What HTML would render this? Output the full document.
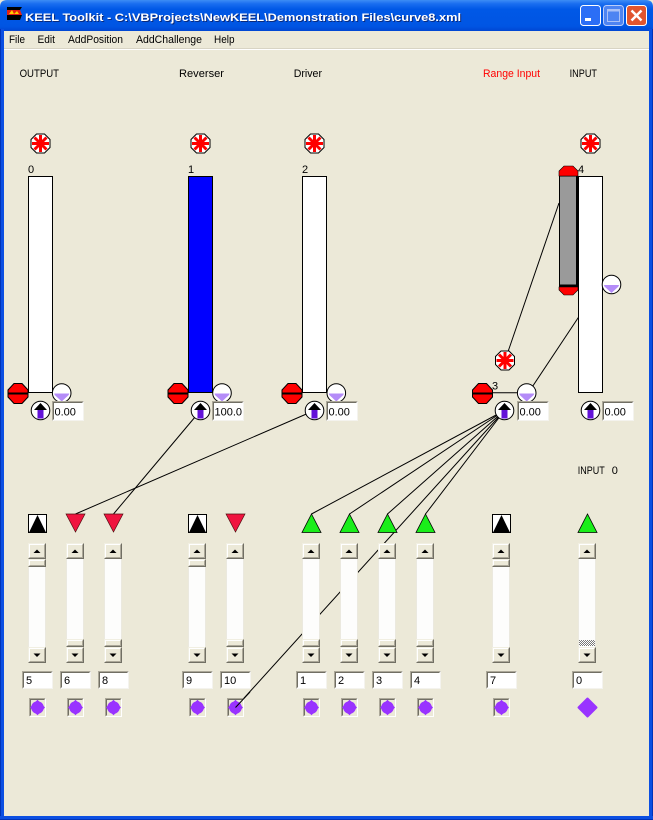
<!DOCTYPE html>
<html><head><meta charset="utf-8"><style>
html,body{margin:0;padding:0;background:#ece9d8;}
svg{display:block}
text{font-family:"Liberation Sans",sans-serif;font-size:11px;fill:#000;}
</style></head><body>
<svg width="653" height="820" viewBox="0 0 653 820" xmlns="http://www.w3.org/2000/svg">
<defs>
<linearGradient id="tb" x1="0" y1="0" x2="0" y2="1">
<stop offset="0" stop-color="#3d8df5"/>
<stop offset="0.12" stop-color="#1a6ef0"/>
<stop offset="0.3" stop-color="#0058e6"/>
<stop offset="0.85" stop-color="#0055e3"/>
<stop offset="1" stop-color="#0046d2"/>
</linearGradient>
<pattern id="hatch" width="2" height="2" patternUnits="userSpaceOnUse">
<rect width="2" height="2" fill="#fff"/><rect width="1" height="1" fill="#777"/><rect x="1" y="1" width="1" height="1" fill="#777"/>
</pattern>
<g id="star">
 <polygon points="-4,-9.5 4,-9.5 9.5,-4 9.5,4 4,9.5 -4,9.5 -9.5,4 -9.5,-4" fill="#fff" stroke="#000" stroke-width="1"/>
 <g stroke="#f00" stroke-width="3">
  <line x1="0" y1="-8.5" x2="0" y2="8.5"/>
  <line x1="-8.5" y1="0" x2="8.5" y2="0"/>
  <line x1="-6" y1="-6" x2="6" y2="6"/>
  <line x1="-6" y1="6" x2="6" y2="-6"/>
 </g>
 <circle r="3" fill="#f00"/>
</g>
<g id="oct">
 <polygon points="-4,-10 4,-10 10,-3.5 10,3.5 4,10 -4,10 -10,3.5 -10,-3.5" fill="#ff0000" stroke="#000" stroke-width="1"/>
 <line x1="-10" y1="0" x2="10" y2="0" stroke="#000" stroke-width="2"/>
</g>
<g id="cd">
 <circle r="9.3" fill="#fff" stroke="#000" stroke-width="1"/>
 <polygon points="-7.5,0.5 7.5,0.5 7,2 0,8.5 -7,2" fill="#b48cf8"/>
</g>
<g id="ua">
 <circle r="9.3" fill="#fff" stroke="#000" stroke-width="1"/>
 <rect x="-3" y="-1" width="6" height="9" fill="#6312d8"/>
 <polygon points="0,-7.5 6.5,-0.5 -6.5,-0.5" fill="#000"/>
</g>
<g id="tbt" shape-rendering="crispEdges">
 <rect width="32" height="20" fill="#fff"/>
 <path d="M0.5,19.5 V0.5 H31.5" stroke="#aca899" fill="none"/>
 <path d="M1.5,18.5 V1.5 H30.5" stroke="#716f64" fill="none"/>
 <path d="M1.5,19.5 H31.5 V1" stroke="#f4f3ee" fill="none"/>
</g>
<g id="tbb" shape-rendering="crispEdges">
 <rect width="31" height="18" fill="#fff"/>
 <path d="M0.5,17.5 V0.5 H30.5" stroke="#aca899" fill="none"/>
 <path d="M1.5,16.5 V1.5 H29.5" stroke="#716f64" fill="none"/>
 <path d="M1.5,17.5 H30.5 V1" stroke="#f4f3ee" fill="none"/>
</g>
<g id="btn" shape-rendering="crispEdges">
 <rect width="18" height="16" fill="#ece9d8"/>
 <path d="M0.5,15.5 V0.5 H17.5" stroke="#f1efe2" fill="none"/>
 <path d="M1.5,14.5 V1.5 H16.5" stroke="#ffffff" fill="none"/>
 <path d="M0.5,15.5 H17.5 V0.5" stroke="#716f64" fill="none"/>
 <path d="M1.5,14.5 H16.5 V1.5" stroke="#aca899" fill="none"/>
</g>
<g id="thumb" shape-rendering="crispEdges">
 <rect width="18" height="8" fill="#ece9d8"/>
 <path d="M0.5,7.5 V0.5 H17.5" stroke="#f1efe2" fill="none"/>
 <path d="M1.5,6.5 V1.5 H16.5" stroke="#ffffff" fill="none"/>
 <path d="M0.5,7.5 H17.5 V0.5" stroke="#716f64" fill="none"/>
 <path d="M1.5,6.5 H16.5 V1.5" stroke="#aca899" fill="none"/>
</g>
<g id="btnup"><use href="#btn"/><polygon points="5.5,10 12.5,10 9,6.5" fill="#000"/></g>
<g id="btndn"><use href="#btn"/><polygon points="5.5,6.5 12.5,6.5 9,10" fill="#000"/></g>
<g id="sbtrack" shape-rendering="crispEdges">
 <rect width="18" height="120" fill="#fdfdfc"/>
 <line x1="0.5" y1="0" x2="0.5" y2="120" stroke="#ebe9df"/>
 <line x1="17.5" y1="0" x2="17.5" y2="120" stroke="#ebe9df"/>
</g>
<g id="sbt"><use href="#sbtrack"/><use href="#btnup"/><use href="#btndn" y="104"/><use href="#thumb" y="16"/></g>
<g id="sbb"><use href="#sbtrack"/><use href="#btnup"/><use href="#btndn" y="104"/><use href="#thumb" y="96"/></g>
<g id="sbh"><use href="#sbtrack"/><use href="#btnup"/><use href="#btndn" y="104"/><rect x="1" y="97" width="16" height="6" fill="url(#hatch)"/></g>
<g id="pi">
 <g shape-rendering="crispEdges">
 <rect width="17" height="19" fill="#ece9d8"/>
 <path d="M0.5,18.5 V0.5 H16.5" stroke="#aca899" fill="none"/>
 <path d="M1.5,17.5 V1.5 H15.5" stroke="#716f64" fill="none"/>
 <path d="M0.5,18.5 H16.5 V0.5" stroke="#ffffff" fill="none"/>
 </g>
 <polygon points="8.5,1.8 16,9.5 8.5,17.2 1,9.5" fill="#9933ff"/>
 <circle cx="8.5" cy="9.5" r="6.3" fill="#9933ff"/>
</g>
<g id="trik">
 <rect x="0.5" y="0.5" width="18" height="18" fill="#fff" stroke="#000"/>
 <polygon points="9.5,1 18,18.5 1,18.5" fill="#000"/>
</g>
<g id="trir"><polygon points="0,0 19,0 9.5,18" fill="#f0143f" stroke="#501010" stroke-width="0.7"/></g>
<g id="trig"><polygon points="9.5,0 19,18.5 0,18.5" fill="#1aee1a" stroke="#000" stroke-width="0.8"/></g>
</defs>

<!-- background -->
<rect width="653" height="820" fill="#ece9d8"/>

<!-- title bar -->
<path d="M0,31 V7 Q0,0 7,0 H646 Q653,0 653,7 V31 Z" fill="url(#tb)"/>
<g>
 <polygon points="7,7 22,7 20,10 7,10" fill="#000"/>
 <polygon points="7,10 20,10 22,15 7,15" fill="#e82010"/>
 <polygon points="9,14 12,10 14,14 17,11 19,14" fill="#ffd000"/>
 <polygon points="7,15 22,15 20,20 7,20" fill="#000"/>
</g>
<text x="26" y="22" font-weight="bold" font-size="12.5" style="fill:#0b2a7a" textLength="436" lengthAdjust="spacingAndGlyphs">KEEL Toolkit - C:\VBProjects\NewKEEL\Demonstration Files\curve8.xml</text>
<text x="25" y="21" font-weight="bold" font-size="12.5" style="fill:#ffffff" textLength="436" lengthAdjust="spacingAndGlyphs">KEEL Toolkit - C:\VBProjects\NewKEEL\Demonstration Files\curve8.xml</text>
<!-- window buttons -->
<rect x="580.5" y="5.5" width="20" height="20" rx="3" fill="#2b6ef6" stroke="#fff"/>
<rect x="585" y="18" width="6" height="3" fill="#fff"/>
<rect x="603.5" y="5.5" width="20" height="20" rx="3" fill="#4d84f2" stroke="#b9cdfa"/>
<rect x="607.5" y="9.5" width="12" height="12" fill="none" stroke="#a9c1f7"/>
<rect x="607.5" y="9.5" width="12" height="2" fill="#a9c1f7"/>
<rect x="626.5" y="5.5" width="20" height="20" rx="3" fill="#e1552f" stroke="#fff"/>
<line x1="631.5" y1="10.5" x2="641.5" y2="20.5" stroke="#fff" stroke-width="2.5"/>
<line x1="641.5" y1="10.5" x2="631.5" y2="20.5" stroke="#fff" stroke-width="2.5"/>

<!-- borders -->
<rect x="0" y="29" width="4" height="791" fill="#0b4fe2"/>
<rect x="0" y="29" width="1" height="791" fill="#0033b8"/>
<rect x="649" y="29" width="4" height="791" fill="#0b4fe2"/>
<rect x="652" y="29" width="1" height="791" fill="#0033b8"/>
<rect x="0" y="816" width="653" height="4" fill="#0b4fe2"/>
<rect x="0" y="819" width="653" height="1" fill="#0033b8"/>

<!-- menu -->
<text x="9" y="43" textLength="16" lengthAdjust="spacingAndGlyphs">File</text>
<text x="37.5" y="43" textLength="17.5" lengthAdjust="spacingAndGlyphs">Edit</text>
<text x="68" y="43" textLength="55" lengthAdjust="spacingAndGlyphs">AddPosition</text>
<text x="136" y="43" textLength="66" lengthAdjust="spacingAndGlyphs">AddChallenge</text>
<text x="214" y="43" textLength="20.5" lengthAdjust="spacingAndGlyphs">Help</text>
<rect x="4" y="48" width="645" height="1" fill="#d8d4c4"/>
<rect x="4" y="49" width="645" height="1" fill="#ffffff"/>

<!-- column labels -->
<text x="19.6" y="77" textLength="39.4" lengthAdjust="spacingAndGlyphs">OUTPUT</text>
<text x="179" y="77" textLength="45" lengthAdjust="spacingAndGlyphs">Reverser</text>
<text x="293.7" y="77" textLength="28.3" lengthAdjust="spacingAndGlyphs">Driver</text>
<text x="483" y="77" textLength="57" lengthAdjust="spacingAndGlyphs" style="fill:#ff0000">Range Input</text>
<text x="569.6" y="77" textLength="27.4" lengthAdjust="spacingAndGlyphs">INPUT</text>

<!-- connector lines -->
<g stroke="#000" stroke-width="1" fill="none">
 <line x1="559" y1="203" x2="505" y2="360.5"/>
 <line x1="582" y1="312" x2="528.5" y2="392.5"/>
 <line x1="504.5" y1="410.5" x2="311.5" y2="514"/>
 <line x1="504.5" y1="410.5" x2="349.5" y2="514"/>
 <line x1="504.5" y1="410.5" x2="387.5" y2="514"/>
 <line x1="504.5" y1="410.5" x2="425.5" y2="514"/>
 <line x1="504.5" y1="410.5" x2="235.5" y2="707.5"/>
 <line x1="314.5" y1="410.5" x2="75.5" y2="514"/>
 <line x1="200.5" y1="410.5" x2="113.5" y2="514"/>
 <line x1="492" y1="392.7" x2="518" y2="392.7"/>
</g>

<!-- stars -->
<use href="#star" x="40.5" y="143.5"/>
<use href="#star" x="200.5" y="143.5"/>
<use href="#star" x="314.5" y="143.5"/>
<use href="#star" x="590.5" y="143.5"/>
<use href="#star" x="505" y="360.5"/>

<!-- index labels -->
<text x="28" y="173">0</text>
<text x="188" y="173">1</text>
<text x="302" y="173">2</text>
<text x="578" y="173">4</text>
<text x="492" y="389.5">3</text>

<!-- bars -->
<rect x="28.5" y="176.5" width="24" height="216" fill="#fff" stroke="#000"/>
<rect x="188.5" y="176.5" width="24" height="216" fill="#0000ff" stroke="#000"/>
<rect x="302.5" y="176.5" width="24" height="216" fill="#fff" stroke="#000"/>
<rect x="578.5" y="176.5" width="24" height="216" fill="#fff" stroke="#000"/>

<!-- range input gray bar -->
<rect x="559.5" y="176" width="18" height="109" fill="#9a9a9a" stroke="#000"/>
<rect x="576" y="176" width="2.5" height="109" fill="#000"/>
<polygon points="564,166 573,166 578,171 578,176 559,176 559,171" fill="#ff0000" stroke="#000" stroke-width="0.6"/>
<rect x="559" y="284.5" width="19.5" height="2.5" fill="#000"/>
<polygon points="559,287 578,287 578,290 573,295 564,295 559,290" fill="#ff0000" stroke="#000" stroke-width="0.6"/>

<!-- octagons -->
<use href="#oct" x="18" y="393.5"/>
<use href="#oct" x="178" y="393.5"/>
<use href="#oct" x="292" y="393.5"/>
<use href="#oct" x="482.5" y="393.5"/>

<!-- circle with down triangle -->
<use href="#cd" x="61.7" y="393"/>
<use href="#cd" x="222" y="393"/>
<use href="#cd" x="336.3" y="393"/>
<use href="#cd" x="526.7" y="393"/>
<use href="#cd" x="611.5" y="284.5"/>

<!-- up arrows -->
<use href="#ua" x="40.5" y="410.5"/>
<use href="#ua" x="200.5" y="410.5"/>
<use href="#ua" x="314.5" y="410.5"/>
<use href="#ua" x="504.5" y="410.5"/>
<use href="#ua" x="590.5" y="410.5"/>

<!-- top textboxes -->
<use href="#tbt" x="52" y="401"/>
<use href="#tbt" x="212" y="401"/>
<use href="#tbt" x="326" y="401"/>
<use href="#tbt" x="517" y="401"/>
<use href="#tbt" x="602" y="401"/>
<text x="54.5" y="415.5">0.00</text>
<text x="214.5" y="415.5">100.0</text>
<text x="328.5" y="415.5">0.00</text>
<text x="519.5" y="415.5">0.00</text>
<text x="604.5" y="415.5">0.00</text>

<text x="577.7" y="474" textLength="27" lengthAdjust="spacingAndGlyphs">INPUT</text>
<text x="611.7" y="474">0</text>

<!-- bottom columns -->
<use href="#trik" x="28" y="514"/><use href="#sbt" x="28" y="543"/><use href="#tbb" x="22" y="671"/><text x="26" y="684">5</text><use href="#pi" x="29" y="698"/>
<use href="#trir" x="66" y="514"/><use href="#sbb" x="66" y="543"/><use href="#tbb" x="60" y="671"/><text x="64" y="684">6</text><use href="#pi" x="67" y="698"/>
<use href="#trir" x="104" y="514"/><use href="#sbb" x="104" y="543"/><use href="#tbb" x="98" y="671"/><text x="102" y="684">8</text><use href="#pi" x="105" y="698"/>
<use href="#trik" x="188" y="514"/><use href="#sbt" x="188" y="543"/><use href="#tbb" x="182" y="671"/><text x="186" y="684">9</text><use href="#pi" x="189" y="698"/>
<use href="#trir" x="226" y="514"/><use href="#sbb" x="226" y="543"/><use href="#tbb" x="220" y="671"/><text x="224" y="684">10</text><use href="#pi" x="227" y="698"/>
<use href="#trig" x="302" y="514"/><use href="#sbb" x="302" y="543"/><use href="#tbb" x="296" y="671"/><text x="300" y="684">1</text><use href="#pi" x="303" y="698"/>
<use href="#trig" x="340" y="514"/><use href="#sbb" x="340" y="543"/><use href="#tbb" x="334" y="671"/><text x="338" y="684">2</text><use href="#pi" x="341" y="698"/>
<use href="#trig" x="378" y="514"/><use href="#sbb" x="378" y="543"/><use href="#tbb" x="372" y="671"/><text x="376" y="684">3</text><use href="#pi" x="379" y="698"/>
<use href="#trig" x="416" y="514"/><use href="#sbb" x="416" y="543"/><use href="#tbb" x="410" y="671"/><text x="414" y="684">4</text><use href="#pi" x="417" y="698"/>
<use href="#trik" x="492" y="514"/><use href="#sbt" x="492" y="543"/><use href="#tbb" x="486" y="671"/><text x="490" y="684">7</text><use href="#pi" x="493" y="698"/>
<use href="#trig" x="578" y="514"/><use href="#sbh" x="578" y="543"/><use href="#tbb" x="572" y="671"/><text x="576" y="684">0</text>
<polygon points="587.5,698.5 596.5,707.5 587.5,716.5 578.5,707.5" fill="#9933ff" stroke="#9933ff" stroke-width="2" stroke-linejoin="round"/>

<line x1="250" y1="692" x2="235.5" y2="707.5" stroke="#000" stroke-width="1"/>
</svg>
</body></html>
